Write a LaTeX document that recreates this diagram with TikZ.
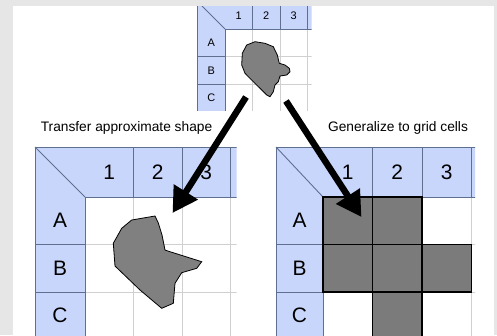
\documentclass[tikz,border=0pt]{standalone}
\usepackage{fontspec}
\setmainfont{Liberation Sans}
\usetikzlibrary{arrows.meta}
\definecolor{bgray}{HTML}{E6E6E6}
\definecolor{hdrfill}{HTML}{C9D6FB}
\definecolor{hdrline}{HTML}{5F6F90}
\definecolor{cellline}{HTML}{D0D0D0}
\definecolor{shapefill}{HTML}{808080}
\definecolor{cellgray}{HTML}{7B7B7B}
\tikzset{
  hdrstroke/.style={draw=hdrline, line width=0.9bp},
  bodystroke/.style={draw=cellline, line width=0.8bp},
  blob/.style={fill=shapefill, draw=black, line width=0.8bp},
  filledcell/.style={fill=cellgray, draw=black, line width=1.2bp},
  bigarrow/.style={line width=6.5bp, -{Triangle[length=25bp,width=27bp]}},
  caption/.style={font=\fontsize{13.8}{16}\selectfont, inner sep=0pt}
}
% #1 name prefix, #2 x0, #3 y0, #4 header width, #5 header height, #6 col width, #7 row height, #8 font size
\newcommand{\sheetgrid}[8]{%
  \foreach \i in {1,...,4} \draw[bodystroke] ({#2+#4+\i*#6},{#3+#5}) -- ++(0,{4*#7});
  \foreach \j in {1,...,4} \draw[bodystroke] ({#2+#4},{#3+#5+\j*#7}) -- ++({4*#6},0);
  \fill[hdrfill] (#2,#3) -- ({#2+#4+4*#6},#3) -- ++(0,#5) -- ({#2+#4},{#3+#5})
     -- ++(0,{4*#7}) -- (#2,{#3+#5+4*#7}) -- cycle;
  \draw[hdrstroke] (#2,{#3+#5+4*#7}) -- (#2,#3) -- ({#2+#4+4*#6},#3);
  \draw[hdrstroke] ({#2+#4+4*#6},{#3+#5}) -- ({#2+#4},{#3+#5}) -- ({#2+#4},{#3+#5+4*#7});
  \draw[hdrstroke] (#2,#3) -- ({#2+#4},{#3+#5});
  \foreach \i in {1,...,4} \draw[hdrstroke] ({#2+#4+\i*#6},#3) -- ++(0,#5);
  \foreach \j in {1,...,4} \draw[hdrstroke] (#2,{#3+#5+\j*#7}) -- ++(#4,0);
  \foreach \t [count=\i] in {1,2,3}
    \node[font=\fontsize{#8}{#8}\selectfont, inner sep=0pt] (#1col\i) at ({#2+#4+(\i-0.5)*#6},{#3+#5/2}) {\t};
  \foreach \t [count=\i] in {A,B,C}
    \node[font=\fontsize{#8}{#8}\selectfont, inner sep=0pt] (#1row\i) at ({#2+#4/2},{#3+#5+(\i-0.5)*#7}) {\t};
}
\begin{document}
\begin{tikzpicture}[x=1bp,y=-1bp]
\useasboundingbox (0,0) rectangle (497,335);
\fill[bgray] (0,0) rectangle (497,335);
\fill[white] (13,6) rectangle (494,335);

% small grid (top)
\begin{scope}
  \clip (197,6) rectangle (311.5,110);
  \sheetgrid{s}{197.5}{1.5}{27.5}{27.5}{27.5}{27.5}{11}
  \draw[blob] (246.7,45) -- (255,41.7) -- (265,43.3) -- (273.3,46.7) -- (277.3,55)
    -- (279.3,63.3) -- (285,65) -- (289.3,68.3) -- (290,71.7) -- (286.7,75) -- (280,76)
    -- (278.3,81.7) -- (275,85) -- (273.3,91.7) -- (270,96.7) -- (266.7,95) -- (260,88.3)
    -- (253.3,81.7) -- (245,73.3) -- (241.7,65) -- (242.3,53.3) -- cycle;
\end{scope}

% left grid
\begin{scope}
  \clip (34,146) rectangle (236.5,336);
  \sheetgrid{l}{35}{147}{50}{50}{48.5}{47.5}{21}
  \draw[blob] (131.7,220) -- (155,216) -- (158.3,223) -- (162,235) -- (165,250)
    -- (170,251.7) -- (201.7,261.7) -- (196.7,268.3) -- (181.7,272.7) -- (175,283.3)
    -- (173.3,303.3) -- (161.7,308.3) -- (140,290) -- (115,266) -- (113.3,243.3)
    -- (121.7,228.3) -- cycle;
\end{scope}

% right grid
\begin{scope}
  \clip (275,146) rectangle (475,336);
  \sheetgrid{r}{276}{147}{47}{50}{49.5}{47.5}{21}
  \draw[filledcell] (323,197) rectangle ++(49.5,47.5);
  \draw[filledcell] (372.5,197) rectangle ++(49.5,47.5);
  \draw[filledcell] (323,244.5) rectangle ++(49.5,47.5);
  \draw[filledcell] (372.5,244.5) rectangle ++(49.5,47.5);
  \draw[filledcell] (422,244.5) rectangle ++(49.5,47.5);
  \draw[filledcell] (372.5,292) rectangle ++(49.5,47.5);
\end{scope}

% captions
\node[caption] (capl) at (126.5,128) {Transfer approximate shape};
\node[caption] (capr) at (398,128) {Generalize to grid cells};

% arrows
\coordinate (a1s) at (246,97);
\coordinate (a1e) at (172.5,213);
\coordinate (a2s) at (286,101);
\coordinate (a2e) at (361.5,217);
\draw[bigarrow] (a1s) -- (a1e);
\draw[bigarrow] (a2s) -- (a2e);
\end{tikzpicture}
\end{document}
